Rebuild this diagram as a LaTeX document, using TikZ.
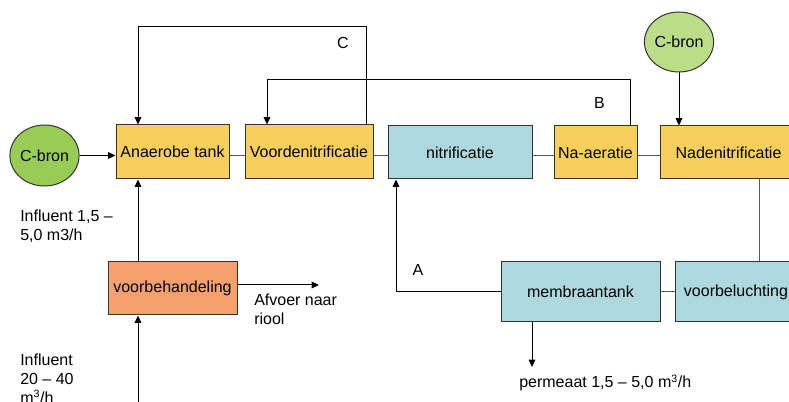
\documentclass[tikz,border=0pt]{standalone}
\usepackage{fontspec}
\setmainfont{Liberation Sans}
\usetikzlibrary{shapes.geometric,arrows.meta}
\definecolor{geel}{HTML}{F7CF5A}
\definecolor{blauw}{HTML}{ACD8DE}
\definecolor{oranje}{HTML}{F6A06E}
\definecolor{groen}{HTML}{99CC55}
\definecolor{lichtgroen}{HTML}{BBDD88}
\tikzset{
  tank/.style={draw=black!80, line width=0.75pt, inner sep=0pt, font=\fontsize{12}{14}\selectfont},
  bron/.style={ellipse, draw=black!80, line width=0.75pt, inner sep=0pt, font=\fontsize{12}{14}\selectfont},
  flow/.style={-{Triangle[length=5.5pt,width=5pt]}, line width=0.75pt},
  verbind/.style={draw=black!65, line width=0.75pt},
  lbl/.style={inner sep=0pt, align=left, font=\fontsize{12}{14}\selectfont}
}
\begin{document}
\begin{tikzpicture}[x=0.75pt,y=-0.75pt]
\clip (0,0) rectangle (789,402);
% tanks
\node[tank, fill=geel, minimum width=84.75pt, minimum height=40.5pt] (anaer) at (172.5,152) {Anaerobe tank};
\node[tank, fill=geel, minimum width=96pt, minimum height=40.5pt] (voorden) at (309,152) {Voordenitrificatie};
\node[tank, fill=blauw, minimum width=108pt, minimum height=39.75pt] (nitri) at (460,152.5) {nitrificatie};
\node[tank, fill=geel, minimum width=62.25pt, minimum height=39.75pt] (naaer) at (595.5,152.5) {Na-aeratie};
\node[tank, fill=geel, minimum width=102.75pt, minimum height=39.75pt] (naden) at (728.5,152.5) {Nadenitrificatie};
\node[tank, fill=blauw, minimum width=91.5pt, minimum height=45pt] (voorbel) at (736,292) {voorbeluchting};
\node[tank, fill=blauw, minimum width=119.25pt, minimum height=45pt] (membr) at (580.5,292) {membraantank};
\node[tank, fill=oranje, minimum width=96.75pt, minimum height=39.75pt] (voorbeh) at (172.5,288.5) {voorbehandeling};
% koolstofbronnen
\node[bron, fill=groen, minimum width=51.75pt, minimum height=45.75pt] (cbron1) at (44.5,155.5) {C-bron};
\node[bron, fill=lichtgroen, minimum width=51pt, minimum height=45pt] (cbron2) at (679,42) {C-bron};
% hulppunten
\coordinate (hl) at (0,156);
\coordinate (cL) at (138,27);
\coordinate (cR) at (366,27);
\coordinate (bL) at (267,80);
\coordinate (bR) at (630,80);
\coordinate (aL) at (396,292);
\coordinate (vb) at (138,0);
\coordinate (inf) at (138,402);
\coordinate (afv) at (319,285);
\coordinate (perm) at (532,367);
\coordinate (nv) at (759,0);
% verbindingen
\draw[verbind] (anaer.east |- hl) -- (voorden.west |- hl);
\draw[verbind] (voorden.east |- hl) -- (nitri.west |- hl);
\draw[verbind] (nitri.east |- hl) -- (naaer.west |- hl);
\draw[verbind] (naaer.east |- hl) -- (naden.west |- hl);
\draw[verbind] (membr.east) -- (voorbel.west);
\draw[verbind] (nv |- naden.south) -- (nv |- voorbel.north);
\draw[flow] (cbron1.east) -- (cbron1.east -| anaer.west);
\draw[flow] (cbron2.south) -- (cbron2.south |- naden.north);
\draw[flow] (cR |- voorden.north) -- (cR) -- (cL) -- (cL |- anaer.north);
\draw[flow] (bR |- naaer.north) -- (bR) -- (bL) -- (bL |- voorden.north);
\draw[flow] (membr.west) -- (aL) -- (aL |- nitri.south);
\draw[flow] (vb |- voorbeh.north) -- (vb |- anaer.south);
\draw[flow] (inf) -- (inf |- voorbeh.south);
\draw[flow] (voorbeh.east |- afv) -- (afv);
\draw[flow] (perm |- membr.south) -- (perm);
% teksten
\node[lbl] (lblC) at (343,43) {C};
\node[lbl] (lblB) at (599.5,103) {B};
\node[lbl] (lblA) at (418,270) {A};
\node[lbl, anchor=north west] (inf1) at (20,210) {Influent 1,5 --\\5,0 m3/h};
\node[lbl, anchor=north west] (inf2) at (20,354) {Influent\\20 -- 40\\m\textsuperscript{3}/h};
\node[lbl, anchor=north west] (riool) at (254,294) {Afvoer naar\\riool};
\node[lbl, anchor=base west] (permtxt) at (519,388) {permeaat 1,5 -- 5,0 m\textsuperscript{3}/h};
\end{tikzpicture}
\end{document}
